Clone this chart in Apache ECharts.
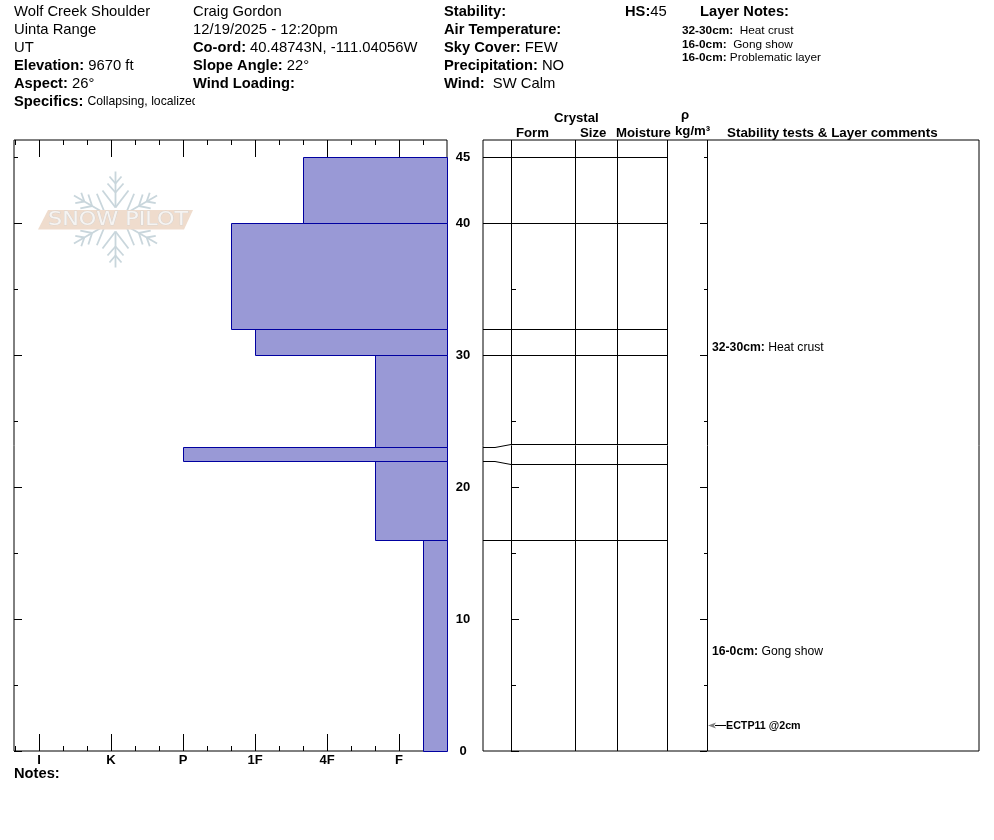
<!DOCTYPE html>
<html><head><meta charset="utf-8">
<style>html,body{margin:0;padding:0;background:#fff}#c{width:994px;height:840px}</style>
<script src="https://cdn.jsdelivr.net/npm/echarts@6/dist/echarts.min.js"></script>
</head><body><div id="c"></div>
<script>
// ---- data ----
const hardnessLabels = ['I','K','P','1F','4F','F'];
const hardnessMajorSteps = [17,14,11,8,5,2];
const hardnessMinorSteps = [18,16,15,13,12,10,9,7,6,4,3,1];
const hardnessScale = {'F-':1,'F':2,'F+':3,'4F-':4,'4F':5,'4F+':6,'1F-':7,'1F':8,'1F+':9,'P-':10,'P':11};
const layerBottom = [0,16,22,23,30,32,40];
const layerTop = [16,22,23,30,32,40,45];
const layerHardness = ['F-','F+','P','F+','1F','1F+','4F+'];
const depthMajor = [0,10,20,30,40];
const depthMinor = [5,15,25,35,45];
const depthLabels = [0,10,20,30,40,45];
const trueBoundaries = [45,40,32,30,23,22,16];
const shownBoundaries = [45,40,32,30,23.26,21.74,16];
const commentDepths = [30.6,7.6];
const commentHeads = ['32-30cm:','16-0cm:'];
const commentTexts = ['Heat crust','Gong show'];
const testDepths = [2];
const testLabels = ['ECTP11 @2cm'];

// ---- layout ----
const FONT = '"Liberation Sans", Arial, sans-serif';
const PLOT_TOP = 140, PLOT_H = 611, DEPTH_MAX = 46.29;
const RIGHT_LEFT = 483, RIGHT_W = 496;
const columnEdges = [28,92,134,184,224];
const LINE_START = 28, LINE_END = 184, COMMENT_X = 229;

const rich = {
  b:{font:'bold 14.7px '+FONT,color:'#000'},
  n:{font:'14.8px '+FONT,color:'#000'},
  sb:{font:'bold 12.2px '+FONT,color:'#000'},
  sn:{font:'12.2px '+FONT,color:'#000'},
  tb:{font:'bold 11.8px '+FONT,color:'#000'},
  tn:{font:'11.8px '+FONT,color:'#000'}
};
function T(x,y,text,size,bold,extra){
  return {type:'text',x:x,y:y,z:20,silent:true,style:Object.assign({
    text:text,fill:'#000',verticalAlign:'middle',
    font:(bold?'bold ':'')+size+'px '+FONT,rich:rich},extra||{})};
}
const texts = [
  T(14,12,'Wolf Creek Shoulder',14.8),T(14,30,'Uinta Range',14.8),T(14,48,'UT',14.8),
  T(14,66,'{b|Elevation:} {n|9670 ft}',14.7),T(14,84,'{b|Aspect:} {n|26°}',14.7),
  T(14,102,'{b|Specifics:} {sn|Collapsing, localized}',14.7),
  {type:'rect',z:21,silent:true,shape:{x:195,y:94,width:30,height:17},style:{fill:'#fff'}},
  T(193,12,'Craig Gordon',14.8),T(193,30,'12/19/2025 - 12:20pm',14.8),
  T(193,48,'{b|Co-ord:} {n|40.48743N, -111.04056W}',14.7),
  T(193,66,'{b|Slope Angle:} {n|22°}',14.7),T(193,84,'Wind Loading:',14.7,true),
  T(444,12,'Stability:',14.7,true),T(444,30,'Air Temperature:',14.7,true),
  T(444,48,'{b|Sky Cover:} {n|FEW}',14.7),T(444,66,'{b|Precipitation:} {n|NO}',14.7),
  T(444,84,'{b|Wind:}  {n|SW Calm}',14.7),
  T(625,12,'{b|HS:}{n|45}',14.7),T(700,12,'Layer Notes:',14.7,true),
  T(682,31,'{tb|32-30cm:}  {tn|Heat crust}',11.8),T(682,44.5,'{tb|16-0cm:}  {tn|Gong show}',11.8),
  T(682,57.5,'{tb|16-0cm:} {tn|Problematic layer}',11.8),
  T(554,118,'Crystal',13.2,true),T(516,133,'Form',13.2,true),T(580,133,'Size',13.2,true),
  T(616,133,'Moisture',13.2,true),T(681,115,'ρ',13.2,true),T(675,131,'kg/m³',13.2,true),
  T(727,133,'Stability tests & Layer comments',13.4,true),
  T(14,774,'Notes:',14.7,true)
];

// snowflake watermark
function arm(rot){
  const c='#c9d6dc';
  const ln=(a,b,d,e)=>({type:'line',shape:{x1:a,y1:b,x2:d,y2:e},style:{stroke:c,lineWidth:1.8}});
  return {type:'group',x:115.5,y:219.5,rotation:rot,silent:true,z:5,children:[
    ln(0,-12,0,-48),ln(0,-12,-13,-29),ln(0,-12,13,-29),ln(0,-27,-8,-36),ln(0,-27,8,-36),ln(0,-36,-6,-43),ln(0,-36,6,-43)
  ]};
}
const logo = [0,1,2,3,4,5].map(i=>arm(i*Math.PI/3)).concat([
  {type:'polygon',z:6,silent:true,shape:{points:[[48,210],[193,210],[184,229.5],[38,229.5]]},style:{fill:'#efdccd'}},
  {type:'text',z:7,silent:true,x:118,y:220,scaleX:1.14,style:{text:'SNOW PILOT',align:'center',verticalAlign:'middle',
    font:'19.5px "DejaVu Sans", sans-serif',fill:'#f6f4f2',stroke:'#cfcfcf',lineWidth:0.7}}
]);

function depthAxis(gridIndex,position,values,len,offset,labelled){
  return {type:'value',gridIndex:gridIndex,position:position,offset:offset||0,min:0,max:DEPTH_MAX,
    axisLine:{show:false,onZero:false},splitLine:{show:false},
    axisTick:{show:true,inside:true,length:len,customValues:values,lineStyle:{color:'#000',width:1}},
    axisLabel:labelled?{show:true,customValues:depthLabels,margin:16,align:'center',color:'#000',
      fontFamily:FONT,fontWeight:'bold',fontSize:13,showMinLabel:true,showMaxLabel:true}:{show:false}};
}
function hardAxis(position,values,len,labelled){
  return {type:'value',gridIndex:0,position:position,inverse:true,min:0,max:433/24,
    axisLine:{show:false,onZero:false},splitLine:{show:false},
    axisTick:{show:true,inside:true,length:len,customValues:values,lineStyle:{color:'#000',width:1}},
    axisLabel:labelled?{show:true,customValues:hardnessMajorSteps,formatter:v=>hardnessLabels[hardnessMajorSteps.indexOf(v)],
      margin:3,color:'#000',fontFamily:FONT,fontWeight:'bold',fontSize:13}:{show:false}};
}

const option = {
  animation:false,
  backgroundColor:'#fff',
  grid:[
    {left:14,top:PLOT_TOP,width:433,height:PLOT_H,show:true,borderColor:'#000',borderWidth:1,backgroundColor:'transparent',containLabel:false},
    {left:RIGHT_LEFT,top:PLOT_TOP,width:RIGHT_W,height:PLOT_H,show:true,borderColor:'#000',borderWidth:1,backgroundColor:'transparent',containLabel:false}
  ],
  xAxis:[
    hardAxis('bottom',hardnessMajorSteps,17,true),
    hardAxis('bottom',hardnessMinorSteps,5,false),
    hardAxis('top',hardnessMajorSteps,17,false),
    hardAxis('top',hardnessMinorSteps,5,false),
    {type:'value',gridIndex:1,min:0,max:RIGHT_W,show:false}
  ],
  yAxis:[
    depthAxis(0,'right',depthMajor,8,0,true),
    depthAxis(0,'right',depthMinor,4),
    depthAxis(0,'left',depthMajor,8),
    depthAxis(0,'left',depthMinor,4),
    depthAxis(1,'left',depthMajor,8,-28),
    depthAxis(1,'left',depthMinor,5,-28),
    depthAxis(1,'right',depthMajor,7,-272),
    depthAxis(1,'right',depthMinor,3,-272)
  ],
  graphic:{elements:texts.concat(logo)},
  series:[
    {type:'custom',xAxisIndex:0,yAxisIndex:0,z:1,clip:false,
     data:layerBottom.map((b,i)=>[b,layerTop[i],hardnessScale[layerHardness[i]]]),
     renderItem:(p,api)=>{
       const a=api.coord([api.value(2),api.value(1)]), z=api.coord([0,api.value(0)]);
       const x=Math.round(a[0])+.5,y=Math.round(a[1])+.5,r=Math.round(z[0])+.5,q=Math.round(z[1])+.5;
       return {type:'rect',shape:{x:x,y:y,width:r-x,height:q-y},style:{fill:'#9999d6',stroke:'#0000a0',lineWidth:1}};
     }},
    {type:'custom',xAxisIndex:4,yAxisIndex:4,z:10,clip:false,data:columnEdges.map(v=>[v]),
     renderItem:(p,api)=>{
       const a=api.coord([api.value(0),0]),b=api.coord([api.value(0),DEPTH_MAX]);
       const x=Math.round(a[0])+.5;
       return {type:'line',shape:{x1:x,y1:a[1],x2:x,y2:b[1]},style:{stroke:'#000',lineWidth:1}};
     }},
    {type:'custom',xAxisIndex:4,yAxisIndex:4,z:10,clip:false,data:shownBoundaries.map((d,i)=>[d,trueBoundaries[i]]),
     renderItem:(p,api)=>{
       const a=api.coord([LINE_START,api.value(0)]),b=api.coord([LINE_END,api.value(0)]);
       const s=api.coord([0,api.value(1)]),m=api.coord([12,api.value(1)]);
       const y=Math.round(a[1])+.5,ty=Math.round(s[1])+.5;
       return {type:'group',children:[
         {type:'line',shape:{x1:a[0],y1:y,x2:b[0],y2:y},style:{stroke:'#000',lineWidth:1}},
         {type:'polyline',shape:{points:[[s[0],ty],[m[0],ty],[a[0],y]]},style:{fill:'none',stroke:'#000',lineWidth:1}}
       ]};
     }},
    {type:'custom',xAxisIndex:4,yAxisIndex:4,z:11,clip:false,data:commentDepths.map((d,i)=>[d,i]),
     renderItem:(p,api)=>{
       const a=api.coord([COMMENT_X,api.value(0)]),i=api.value(1);
       return {type:'text',x:a[0],y:a[1]+1,style:{text:'{sb|'+commentHeads[i]+'} {sn|'+commentTexts[i]+'}',rich:rich,verticalAlign:'middle',fill:'#000'}};
     }},
    {type:'custom',xAxisIndex:4,yAxisIndex:4,z:11,clip:false,data:testDepths.map((d,i)=>[d,i]),
     renderItem:(p,api)=>{
       const a=api.coord([224,api.value(0)]),x=a[0],y=Math.round(a[1])+.5;
       return {type:'group',children:[
         {type:'line',shape:{x1:x+8,y1:y,x2:x+19,y2:y},style:{stroke:'#000',lineWidth:1}},
         {type:'polygon',shape:{points:[[x+1,y],[x+9,y-3],[x+7,y],[x+9,y+3]]},style:{fill:'#808080'}},
         {type:'text',x:x+19,y:y+1,style:{text:testLabels[api.value(1)],font:'bold 10.7px '+FONT,fill:'#000',verticalAlign:'middle'}}
       ]};
     }}
  ]
};
const chart = echarts.init(document.getElementById('c'),null,{renderer:'canvas',width:994,height:840});
chart.setOption(option);
</script></body></html>
